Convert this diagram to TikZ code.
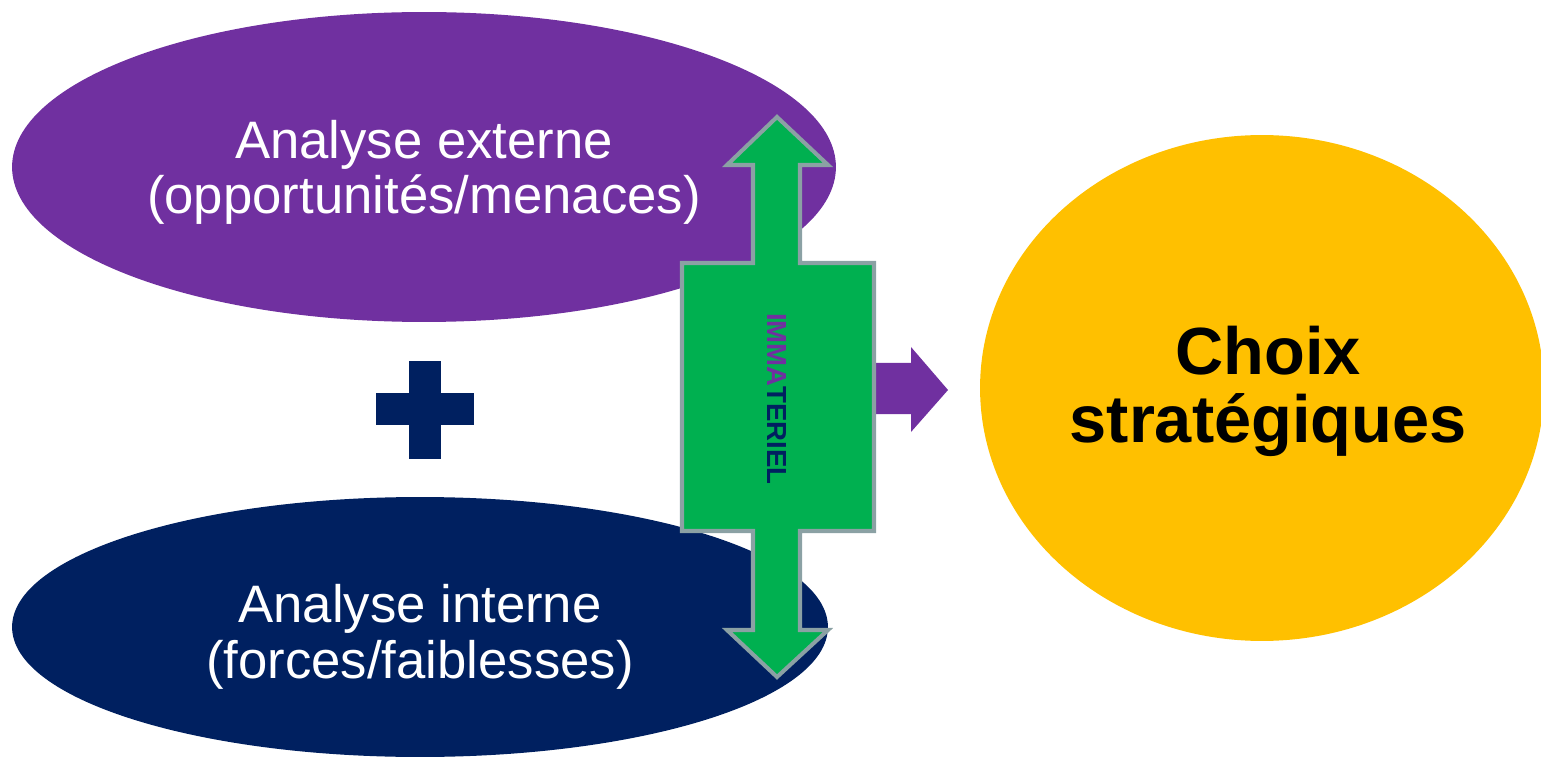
\documentclass[tikz,border=0pt]{standalone}
\usepackage{fontspec}
\setmainfont{Liberation Sans}
\usetikzlibrary{shapes.geometric}

\definecolor{extviolet}{RGB}{112,48,160}
\definecolor{intnavy}{RGB}{0,32,96}
\definecolor{choixgold}{RGB}{255,192,0}
\definecolor{immgreen}{RGB}{0,176,80}
\definecolor{immgrey}{RGB}{139,161,164}

\tikzset{
  bubble/.style={ellipse,inner sep=0pt},
  analyse/.style={text=white,align=center,font=\fontsize{30pt}{31pt}\selectfont},
  plusbar/.style={fill=intnavy}
}

\begin{document}
\begin{tikzpicture}[x=0.02cm,y=-0.02cm]
                  \useasboundingbox (0,0) rectangle (1541,763);
                  % top ellipse
                  \node [bubble,fill=extviolet,minimum width=16.48cm,minimum height=6.2cm] (externe) at (424,167) {};
                  \node [analyse] (externetxt) at ([yshift=-3pt]externe.center) {Analyse externe\\(opportunités/menaces)};
                  % bottom ellipse
                  \node [bubble,fill=intnavy,minimum width=16.32cm,minimum height=5.2cm] (interne) at (420,627) {};
                  \node [analyse,font=\fontsize{30pt}{32pt}\selectfont] (internetxt) at ([yshift=-5.5pt]interne.center) {Analyse interne\\(forces/faiblesses)};
                  % plus sign
                  \fill [plusbar] (409,361) rectangle (441,459);
                  \fill [plusbar] (376,393) rectangle (474,425);
                  % right ellipse
                  \node [bubble,fill=choixgold,minimum width=11.28cm,minimum height=10.12cm] (choix) at (1262,388) {};
                  \node [align=center,font=\fontsize{38pt}{39pt}\selectfont\bfseries] (choixtxt) at ([xshift=3.5pt,yshift=-2pt]choix.center) {Choix\\stratégiques};
                  % arrow right
                  \fill [extviolet] (870,363) -- (911,363) -- (911,347) -- (948,390) -- (911,432) -- (911,414) -- (870,414) -- cycle;
                  % double arrow up/down with box
                  \filldraw [fill=immgreen,draw=immgrey,line width=2.3pt,line join=miter]
                    (777,117) -- (828,165) -- (800,165) -- (800,263) -- (874,263) -- (874,531) -- (800,531) -- (800,630) -- (828,630)
                    -- (777,677) -- (727,630) -- (753,630) -- (753,531) -- (682,531) -- (682,263) -- (753,263) -- (753,165) -- (727,165) -- cycle;
                  \node [rotate=-90,font=\fontsize{15.7pt}{16pt}\selectfont\bfseries] (immateriel) at (777,399) {\textcolor{extviolet}{IMMA}\textcolor{intnavy}{TERIEL}};
               \end{tikzpicture}
\end{document}
